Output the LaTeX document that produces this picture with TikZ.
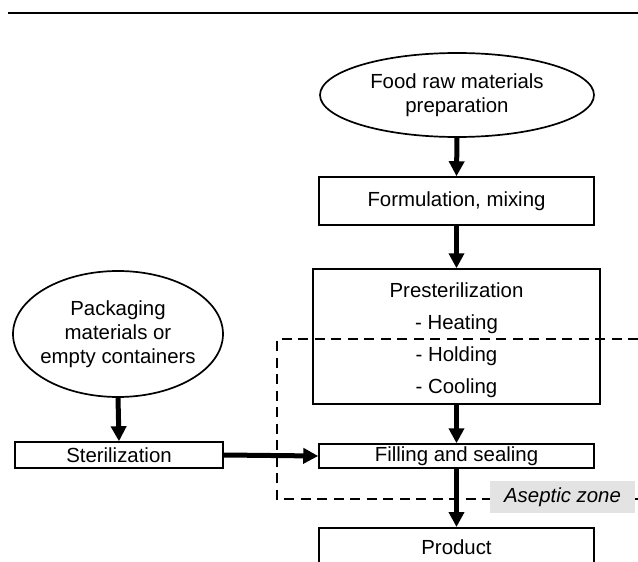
\documentclass[tikz,border=0pt]{standalone}
\usepackage{fontspec}
\setmainfont{Liberation Sans}
\usetikzlibrary{shapes.geometric,arrows.meta}
\begin{document}
\begin{tikzpicture}[x=1pt,y=-1pt,
  every node/.style={font=\fontsize{20.4}{24}\selectfont, inner sep=0pt},
  box/.style={draw, line width=1.5pt, rectangle},
  oval/.style={draw, line width=1.7pt, ellipse, align=center},
  flow/.style={line width=5pt, -{Triangle[width=15pt,length=15pt]}},
  zone/.style={line width=2.2pt, dash pattern=on 10pt off 6.5pt}]
\useasboundingbox (0,0) rectangle (638,562);
\clip (0,0) rectangle (638,562);
\draw[line width=1.5pt] (8,13) -- (638,13);
% nodes
\node[oval, minimum width=274, minimum height=84] (food) at (457,95) {Food raw materials\\preparation};
\node[box, minimum width=275, minimum height=48] (form) at (456.5,201) {Formulation, mixing};
\node[box, minimum width=287, minimum height=135] (pre) at (456.5,336.5) {};
\node[align=center, font=\fontsize{20.4}{32}\selectfont] (pretext) at (456.5,340) {Presterilization\\- Heating\\- Holding\\- Cooling};
\node[oval, inner xsep=-5pt, minimum width=210, minimum height=126] (pack) at (118,334) {Packaging\\materials or\\empty containers};
\node[box, minimum width=208, minimum height=26] (ster) at (119,455) {Sterilization};
\node[box, minimum width=275, minimum height=24] (fill) at (456.5,456) {Filling and sealing};
\node[box, minimum width=275, minimum height=60, anchor=north] (prod) at (456.5,527) {};
\node (prodtext) at (456.5,547) {Product};
% aseptic zone
\coordinate (z1) at (638,339);
\coordinate (z2) at (277,339);
\coordinate (z3) at (277,499);
\coordinate (z4) at (638,499);
\draw[zone] (z1) -- (z2) -- (z3) -- (z4);
\node[fill=black!11, minimum width=145, minimum height=32, font=\fontsize{20.4}{24}\selectfont\itshape] (zonelabel) at (562.5,497) {Aseptic zone};
% connectors
\draw[flow] (food.south) -- (form.north);
\draw[flow] (form.south) -- (pre.north);
\draw[flow] (pre.south) -- (fill.north);
\draw[flow] (fill.south) -- (prod.north);
\draw[flow] (pack.south) -- (ster.north);
\draw[flow] (ster.east) -- (fill.west);
\end{tikzpicture}
\end{document}
